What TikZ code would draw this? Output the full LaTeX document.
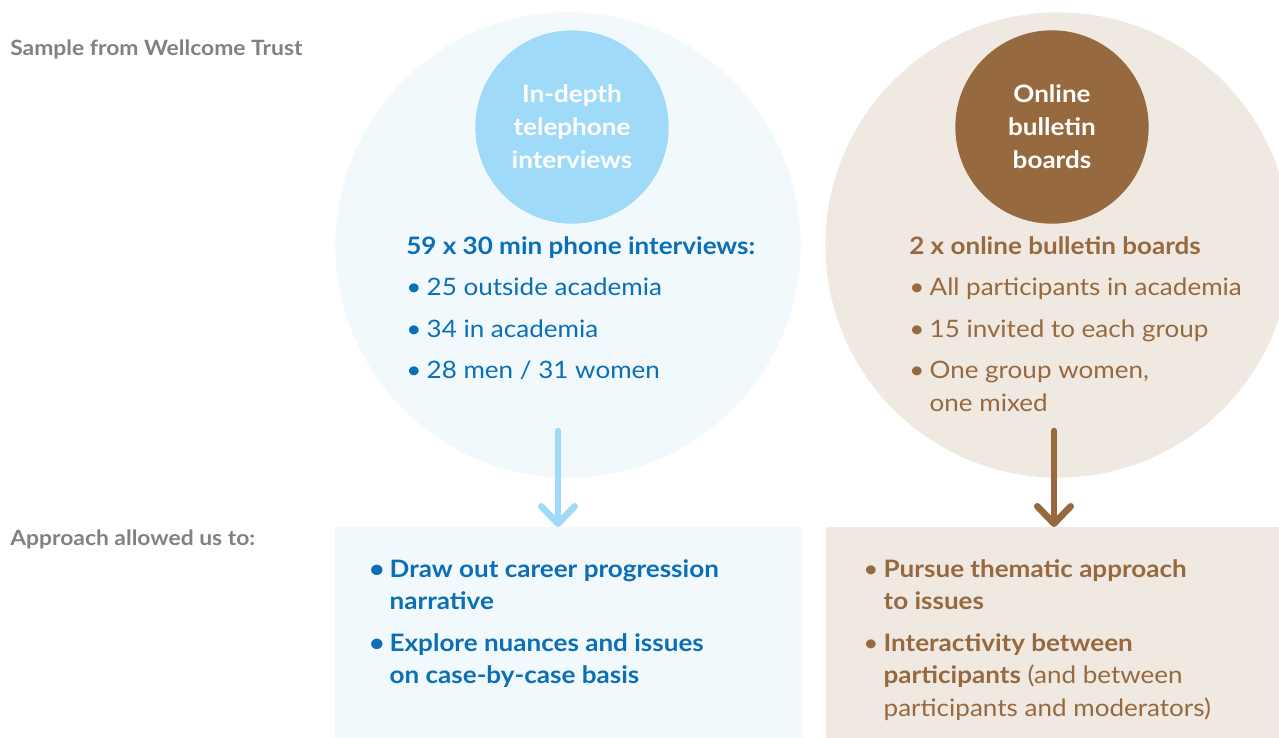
\documentclass[tikz,border=0pt]{standalone}
\usepackage{fontspec}
\setmainfont{Lato}[FakeStretch=1.085]
\usetikzlibrary{arrows.meta,positioning}
\definecolor{wtblue}{HTML}{0B6FB5}
\definecolor{wtsky}{HTML}{9FDBF8}
\definecolor{wtpale}{HTML}{F2F9FD}
\definecolor{wtbrown}{HTML}{97693F}
\definecolor{wtsand}{HTML}{F0E9E2}
\definecolor{wtgrey}{HTML}{808185}
\tikzset{line/.style={draw, line width=5pt, line cap=round, -{Straight Barb[length=13pt, width=25pt, line cap=round, line join=round]}}}
\newcommand{\bul}{\makebox[0.85em][l]{\textbullet}}
\newcommand{\cont}{\hspace*{0.85em}}

\begin{document}
\begin{tikzpicture}[x=0.75pt, y=-0.75pt, node distance=1cm, auto]
\tikzstyle{disc} = [circle, inner sep=0pt, text=white, align=center, font=\bfseries\fontsize{18}{24.75}\selectfont]
\tikzstyle{halo} = [circle, inner sep=0pt, minimum size=349pt]
\tikzstyle{panel} = [rectangle, inner sep=0pt, anchor=north west, minimum height=158.25pt]
\tikzstyle{list} = [align=left, anchor=north west, inner sep=0pt, font=\fontsize{18}{24.6}\selectfont]
\tikzstyle{tag} = [anchor=west, inner sep=0pt, text=wtgrey, font=\bfseries\fontsize{15.8}{20}\selectfont]

\useasboundingbox (0,0) rectangle (1279,738);
\clip (0,0) rectangle (1279,738);

% big pale circles behind each method
\node [halo, fill=wtpale] (phonebg) at (568,245) {};
\node [halo, fill=wtsand] (boardbg) at (1058,245) {};

% method discs
\node [disc, fill=wtsky, minimum size=145pt] (phone) at (572,127) {In-depth\\telephone\\interviews};
\node [disc, fill=wtbrown, minimum size=145pt] (boards) at (1052,127) {Online\\bulletin\\boards};

% sample details
\node [list, text=wtblue] (phonelist) at (406,236) {\textbf{59 x 30 min phone interviews:}\\[6.5pt]
\bul 25 outside academia\\[6.5pt]
\bul 34 in academia\\[6.5pt]
\bul 28 men / 31 women};
\node [list, text=wtbrown] (boardlist) at (909,236) {\textbf{2 x online bulletin boards}\\[6.5pt]
\bul All participants in academia\\[6.5pt]
\bul 15 invited to each group\\[6.5pt]
\bul One group women,\\
\cont one mixed};

% outcome panels
\node [panel, fill=wtpale, minimum width=350.25pt] (phonebox) at (335,527) {};
\node [panel, fill=wtsand, minimum width=339.75pt] (boardbox) at (826,527) {};

\node [list, text=wtblue, font=\bfseries\fontsize{18}{24.6}\selectfont] (phonegain) at (369,559) {\bul Draw out career progression\\
\cont narrative\\[6.25pt]
\bul Explore nuances and issues\\
\cont on case-by-case basis};
\node [list, text=wtbrown] (boardgain) at (863,559) {\bul\textbf{Pursue thematic approach}\\
\cont\textbf{to issues}\\[6.25pt]
\bul\textbf{Interactivity between}\\
\cont\textbf{participants} (and between\\
\cont participants and moderators)};

% row labels
\node [tag] (sample) at (10,49) {Sample from Wellcome Trust};
\node [tag] (approach) at (10,539) {Approach allowed us to:};

% arrows down into the panels
\coordinate (phonetail) at (558,431);
\coordinate (boardtail) at (1054,431);
\path [line, wtsky] (phonetail) -- (phonetail |- phonebox.north);
\path [line, wtbrown] (boardtail) -- (boardtail |- boardbox.north);

\end{tikzpicture}
\end{document}
